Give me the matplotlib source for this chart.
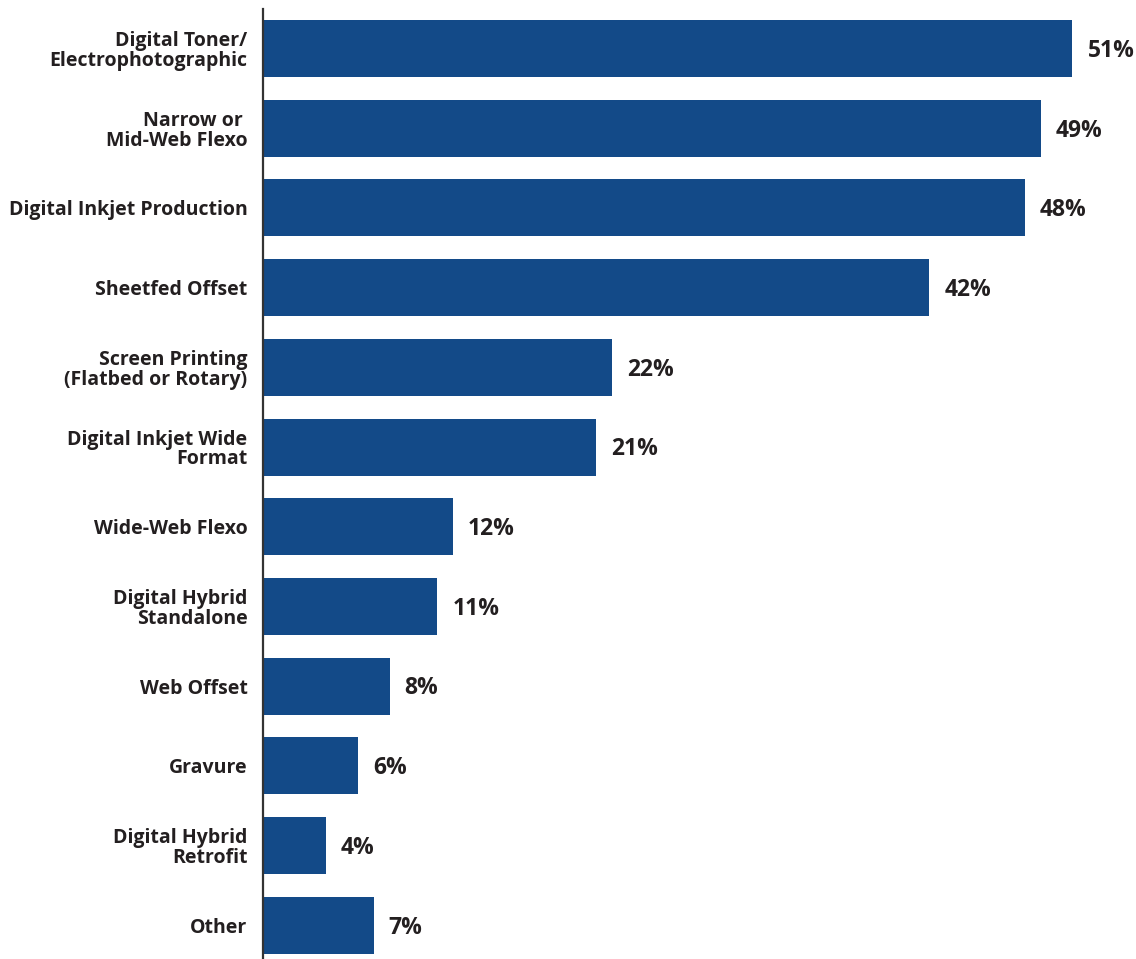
import matplotlib
matplotlib.use("Agg")
import matplotlib.pyplot as plt

categories = [
    "Digital Toner/\nElectrophotographic",
    "Narrow or \nMid-Web Flexo",
    "Digital Inkjet Production",
    "Sheetfed Offset",
    "Screen Printing\n(Flatbed or Rotary)",
    "Digital Inkjet Wide\nFormat",
    "Wide-Web Flexo",
    "Digital Hybrid\nStandalone",
    "Web Offset",
    "Gravure",
    "Digital Hybrid\nRetrofit",
    "Other",
]
values = [51, 49, 48, 42, 22, 21, 12, 11, 8, 6, 4, 7]
value_labels = ["51%", "49%", "48%", "42%", "22%", "21%", "12%", "11%", "8%", "6%", "4%", "7%"]

BAR_COLOR = "#134A88"
TEXT_COLOR = "#231F20"
FONT = ["Open Sans", "DejaVu Sans"]

W, H = 1136, 959
fig = plt.figure(figsize=(W / 100, H / 100), dpi=100)
x0 = 262.5
ax = fig.add_axes([x0 / W, 0, (W - x0) / W, 1])

pitch = 79.7
top = -48.5 / pitch
ax.set_ylim(H / pitch + top, top)
ax.set_xlim(0, (W - x0) / 15.88)

y = list(range(len(values)))
ax.barh(y, values, height=57 / pitch, color=BAR_COLOR, left=0)

for yi, v, lab in zip(y, values, value_labels):
    ax.text(v + 0.95, yi + 0.03, lab, ha="left", va="center", fontsize=16.5,
            fontweight="bold", color=TEXT_COLOR, family=FONT)

ax.set_yticks(y)
ax.set_yticklabels(categories, fontsize=14, fontweight="bold", color=TEXT_COLOR,
                   family=FONT, linespacing=1.0)
ax.tick_params(axis="y", length=0, pad=10.8)
ax.set_xticks([])
for s in ["top", "right", "bottom"]:
    ax.spines[s].set_visible(False)
ax.spines["left"].set_color("#333333")
ax.spines["left"].set_linewidth(1.6)
ax.spines["left"].set_bounds(9 / pitch + top, H / pitch + top)

fig.savefig("out.png", dpi=100, facecolor="white")
